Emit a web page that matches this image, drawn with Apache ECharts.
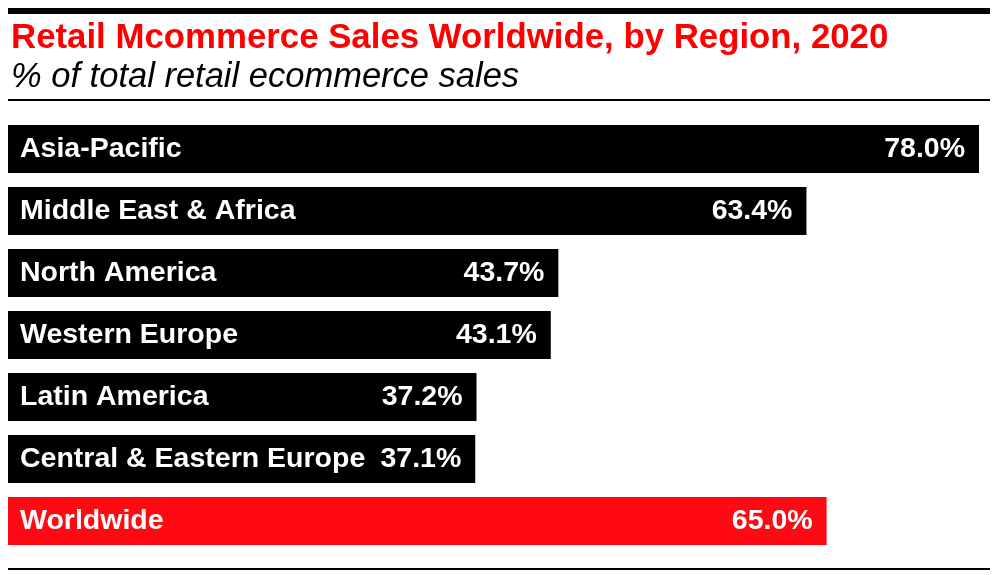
<!DOCTYPE html>
<html lang="en">
<head>
    <meta charset="UTF-8">
    <title>Retail Mcommerce Sales Worldwide, by Region, 2020</title>
    <script src="https://cdn.jsdelivr.net/npm/echarts@6/dist/echarts.min.js"></script>
    <style>
        html, body { margin: 0; padding: 0; background: #fff; }
        #chart { width: 1000px; height: 575px; }
    </style>
</head>
<body>
    <div id="chart"></div>
    <script>
        // data
        const regions = ['Asia-Pacific', 'Middle East & Africa', 'North America', 'Western Europe',
            'Latin America', 'Central & Eastern Europe', 'Worldwide'];
        const shares = [78.0, 63.4, 43.7, 43.1, 37.2, 37.1, 65.0];
        const highlight = 'Worldwide';

        const BLACK = '#000000';
        const RED = '#ff0a12';
        const FONT = '"Liberation Sans", Arial, sans-serif';

        let chart = echarts.init(document.getElementById('chart'));

        let option = {
            animation: false,
            title: [
                {
                    text: 'Retail Mcommerce Sales Worldwide, by Region, 2020',
                    left: 6, top: 16,
                    textStyle: { color: '#ff0000', fontFamily: FONT, fontWeight: 'bold', fontSize: 34.8 }
                },
                {
                    text: '% of total retail ecommerce sales',
                    left: 6, top: 55,
                    textStyle: { color: '#000', fontFamily: FONT, fontStyle: 'italic', fontWeight: 'normal', fontSize: 34.5 }
                }
            ],
            graphic: [
                { type: 'rect', shape: { x: 8, y: 8, width: 982, height: 6 }, style: { fill: '#000' } },
                { type: 'rect', shape: { x: 8, y: 99, width: 982, height: 2 }, style: { fill: '#000' } },
                { type: 'rect', shape: { x: 8, y: 568, width: 982, height: 2 }, style: { fill: '#000' } }
            ],
            grid: { left: 8, top: 118, width: 971, height: 434, containLabel: false },
            xAxis: {
                type: 'value', min: 0, max: 77.1,
                show: false
            },
            yAxis: {
                type: 'category',
                data: regions,
                inverse: true,
                z: 10,
                axisLine: { show: false },
                axisTick: { show: false },
                axisLabel: {
                    inside: true,
                    margin: 12,
                    color: '#fff',
                    fontFamily: FONT,
                    fontWeight: 'bold',
                    fontSize: 28.5
                }
            },
            series: [{
                type: 'bar',
                barWidth: 48,
                clip: true,
                data: shares.map((v, i) => ({
                    value: v,
                    itemStyle: { color: regions[i] === highlight ? RED : BLACK }
                })),
                label: {
                    show: true,
                    position: 'insideRight',
                    distance: 14,
                    color: '#fff',
                    fontFamily: FONT,
                    fontWeight: 'bold',
                    fontSize: 28.5,
                    formatter: p => p.value.toFixed(1) + '%'
                }
            }]
        };
        chart.setOption(option);
    </script>
</body>
</html>
